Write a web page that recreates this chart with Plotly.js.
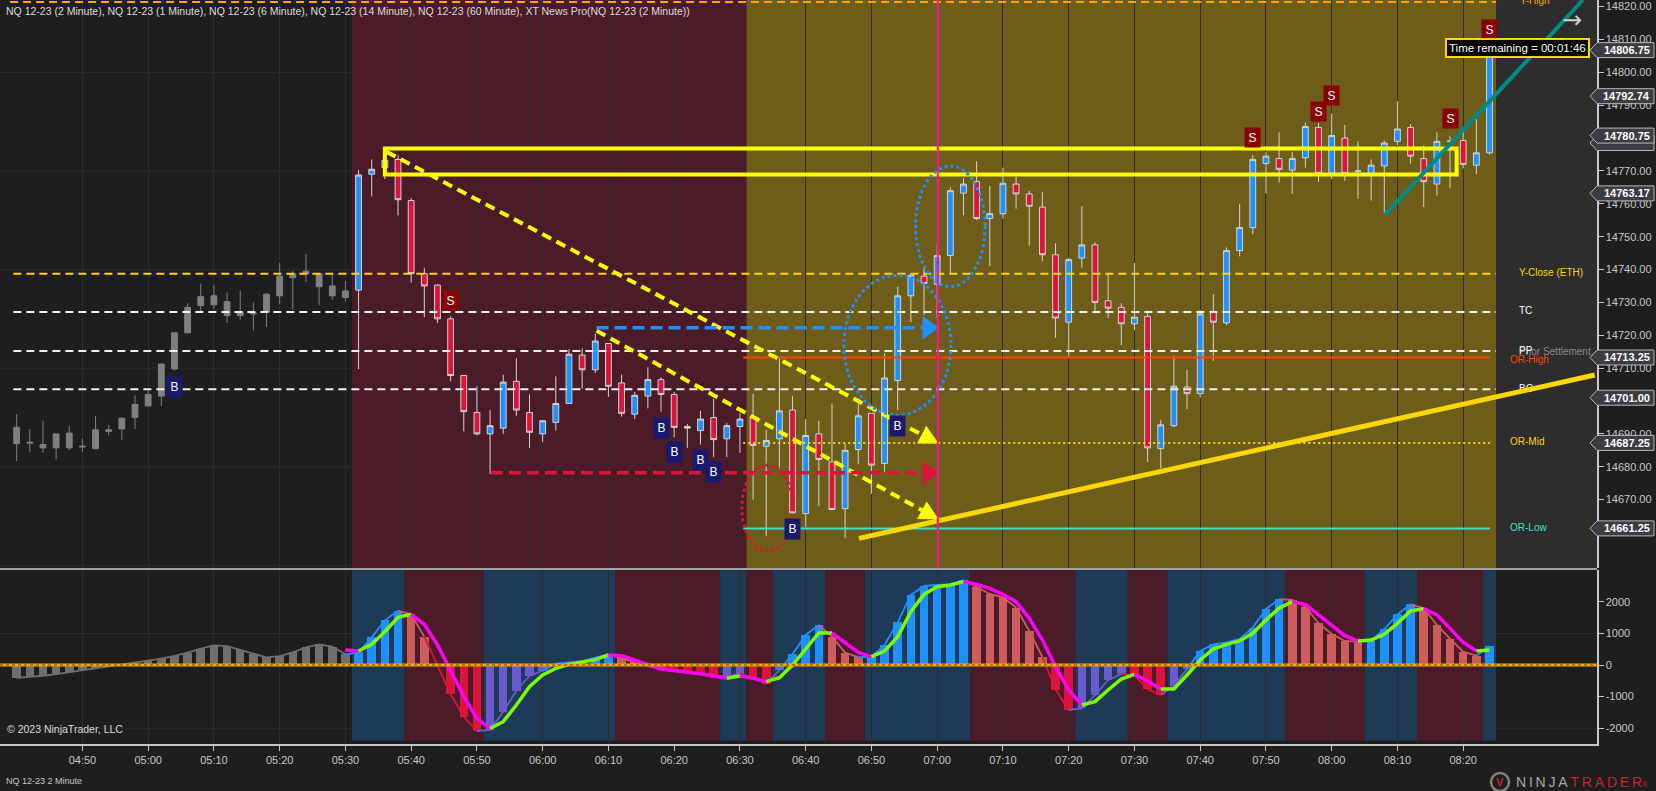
<!DOCTYPE html>
<html><head><meta charset="utf-8">
<script src="https://cdn.plot.ly/plotly-3.0.1.min.js"></script>
<style>html,body{margin:0;padding:0;background:#1e1e1e;}#chart{width:1656px;height:791px;}</style>
</head><body><div id="chart"></div>
<script>
// ---------------- DATA ----------------
const times = [
'04:40','04:42','04:44','04:46','04:48','04:50','04:52','04:54','04:56','04:58',
'05:00','05:02','05:04','05:06','05:08','05:10','05:12','05:14','05:16','05:18',
'05:20','05:22','05:24','05:26','05:28','05:30','05:32','05:34','05:36','05:38',
'05:40','05:42','05:44','05:46','05:48','05:50','05:52','05:54','05:56','05:58',
'06:00','06:02','06:04','06:06','06:08','06:10','06:12','06:14','06:16','06:18',
'06:20','06:22','06:24','06:26','06:28','06:30','06:32','06:34','06:36','06:38',
'06:40','06:42','06:44','06:46','06:48','06:50','06:52','06:54','06:56','06:58',
'07:00','07:02','07:04','07:06','07:08','07:10','07:12','07:14','07:16','07:18',
'07:20','07:22','07:24','07:26','07:28','07:30','07:32','07:34','07:36','07:38',
'07:40','07:42','07:44','07:46','07:48','07:50','07:52','07:54','07:56','07:58',
'08:00','08:02','08:04','08:06','08:08','08:10','08:12','08:14','08:16','08:18',
'08:20','08:22','08:24'];

const open = [
14692.0,14687.5,14686.75,14685.75,14690.25,14686.0,14685.5,14690.75,14691.5,14695.0,
14698.5,14701.5,14709.75,14720.75,14729.0,14732.0,14730.25,14727.25,14726.5,14727.0,
14732.0,14737.5,14738.75,14738.75,14735.0,14731.5,14733.75,14769.0,14771.0,14773.5,
14761.0,14738.75,14735.25,14725.0,14707.75,14696.5,14690.0,14691.75,14706.0,14696.5,
14690.0,14693.5,14699.25,14714.0,14709.5,14717.5,14705.5,14696.0,14701.5,14706.5,
14702.0,14692.25,14691.0,14695.0,14688.5,14692.25,14695.25,14686.25,14688.5,14697.25,
14665.75,14690.0,14681.5,14667.25,14685.25,14696.25,14681.0,14706.25,14732.0,14738.0,
14735.5,14744.25,14763.25,14766.75,14755.5,14757.0,14766.0,14763.0,14759.0,14744.5,
14724.0,14743.5,14747.5,14730.5,14728.5,14723.5,14725.75,14685.5,14692.5,14704.25,
14702.25,14727.25,14723.75,14745.75,14752.75,14772.25,14773.75,14770.25,14774.0,14783.25,
14769.25,14780.0,14770.0,14769.25,14771.5,14779.0,14783.25,14773.75,14766.0,14779.0,
14779.25,14771.75,14775.5];

const high = [
14696.0,14691.5,14694.0,14690.0,14692.5,14688.5,14695.5,14692.75,14695.0,14701.75,
14703.25,14711.25,14720.75,14729.75,14735.75,14735.25,14733.0,14733.75,14730.0,14732.75,
14742.0,14739.5,14744.75,14738.75,14738.5,14736.5,14770.25,14773.5,14774.25,14774.75,
14761.75,14740.5,14735.5,14725.75,14707.75,14704.5,14697.25,14708.0,14713.0,14702.0,
14694.0,14707.5,14715.75,14716.0,14720.5,14717.5,14708.0,14702.75,14710.25,14707.25,
14702.75,14693.0,14697.0,14700.75,14693.25,14696.25,14702.25,14691.25,14713.0,14701.5,
14694.5,14694.0,14699.25,14687.0,14700.75,14696.25,14714.5,14734.75,14738.75,14741.0,
14747.5,14765.0,14767.75,14773.0,14765.5,14771.0,14768.25,14764.0,14763.5,14748.0,
14743.5,14759.25,14748.25,14738.5,14729.75,14742.0,14727.5,14694.25,14713.75,14709.5,
14727.75,14732.5,14746.75,14760.0,14774.75,14775.75,14781.75,14775.75,14784.75,14784.5,
14787.5,14784.0,14779.0,14773.5,14779.25,14791.25,14784.25,14777.75,14781.75,14780.5,
14782.0,14785.75,14808.0];

const low = [
14681.75,14684.5,14684.25,14682.25,14685.0,14684.5,14685.25,14689.5,14688.25,14691.5,
14698.5,14698.5,14709.25,14720.75,14727.25,14728.0,14723.75,14724.75,14721.5,14722.5,
14729.5,14727.75,14736.25,14729.25,14730.75,14730.25,14709.75,14762.25,14767.5,14756.5,
14736.0,14725.5,14723.75,14706.0,14690.75,14689.5,14677.75,14690.0,14695.5,14685.75,
14687.5,14691.0,14699.25,14703.75,14708.5,14701.25,14695.25,14694.5,14697.75,14696.75,
14689.0,14685.75,14686.75,14683.0,14683.0,14684.25,14670.0,14659.0,14679.0,14665.75,
14661.75,14668.0,14667.0,14658.25,14680.75,14671.75,14678.5,14697.25,14724.0,14726.25,
14725.25,14738.75,14756.5,14755.0,14741.0,14755.5,14758.5,14747.25,14742.5,14719.25,
14713.5,14740.5,14727.25,14725.25,14717.0,14721.5,14681.5,14679.5,14692.0,14697.5,
14701.0,14712.25,14723.0,14744.0,14750.75,14763.25,14766.5,14763.0,14771.0,14766.75,
14767.5,14767.0,14761.5,14761.0,14757.0,14777.75,14772.25,14759.0,14762.5,14764.75,
14770.75,14769.0,14775.0];

const close = [
14687.0,14687.25,14685.75,14690.0,14685.75,14686.25,14691.25,14691.25,14694.75,14699.0,
14702.0,14711.25,14720.75,14728.5,14731.75,14729.25,14726.0,14726.0,14726.75,14732.5,
14738.0,14738.75,14739.5,14734.75,14732.0,14733.5,14768.75,14770.5,14773.25,14761.25,
14738.75,14735.0,14725.0,14707.75,14696.75,14690.0,14692.5,14705.75,14697.25,14690.5,
14694.0,14699.25,14714.25,14709.5,14718.25,14704.5,14696.25,14701.75,14706.5,14702.0,
14692.0,14691.75,14694.5,14688.25,14692.5,14694.5,14686.5,14688.0,14697.0,14666.0,
14689.5,14682.25,14667.0,14685.0,14695.5,14680.5,14707.0,14732.0,14738.25,14735.75,
14744.25,14764.0,14766.0,14755.5,14757.0,14766.25,14763.0,14759.25,14744.5,14725.25,
14743.0,14747.5,14730.0,14728.25,14723.5,14725.5,14685.75,14692.75,14704.5,14702.25,
14726.5,14724.0,14745.75,14752.75,14773.5,14774.5,14770.5,14773.75,14783.5,14769.25,
14780.75,14769.25,14770.0,14771.75,14778.5,14782.75,14774.5,14766.75,14779.0,14779.0,
14772.0,14775.5,14806.75];

const hist = [
-410,-380,-340,-290,-230,-170,-110,-50,10,60,
120,200,290,390,520,620,600,480,340,240,
280,400,560,650,580,338,400,876,1414,1720,
1604,897,-20,-928,-1635,-2089,-2057,-1477,-812,-338,
-180,40,80,120,232,338,211,80,10,-70,
-130,-200,-270,-380,-350,-270,-400,-600,-160,338,
950,1266,897,390,250,265,633,1350,2216,2500,
2532,2553,2690,2479,2247,2142,1815,1076,253,-781,
-1424,-1371,-950,-475,-280,-330,-760,-950,-654,-130,
443,654,717,823,1182,1772,2080,2060,1846,1319,
981,760,739,770,1139,1604,1920,1794,1266,823,
422,295,601];

const signal = [
null,null,null,null,null,null,null,null,null,null,
null,null,null,null,null,null,null,null,null,null,
null,null,null,null,null,475,443,654,1055,1509,
1604,1287,633,-190,-1002,-1688,-2005,-1794,-1266,-686,
-317,-106,21,84,169,317,295,158,0,-127,
-190,-232,-274,-359,-422,-348,-422,-528,-401,0,
528,1013,1013,717,400,264,443,897,1688,2237,
2479,2532,2638,2553,2427,2237,2005,1477,791,-53,
-791,-1266,-1160,-791,-443,-295,-506,-760,-760,-317,
158,506,654,760,1002,1424,1794,2005,1920,1583,
1266,928,760,791,970,1319,1709,1783,1583,1160,
717,443,475];

const buyTimes = ['05:04','06:18','06:20','06:24','06:26','06:38','06:54'];
const buyPrices = [14704.2,14691.7,14684.4,14682.0,14678.3,14661.1,14692.5];
const sellTimes = ['05:46','07:48','07:58','08:00','08:18','08:24'];
const sellPrices = [14730.7,14780.1,14788.2,14793.1,14786.1,14812.9];

const levelNames = ['Y-High','Y-Close (ETH)','TC','PP','BC','OR-High','OR-Mid','OR-Low'];
const levelPrices = [14821.4,14738.7,14727.1,14715.2,14703.6,14713.25,14687.25,14661.25];

const hiddenTagPrice = 14778.50;
const tagPrices = [14806.75,14792.74,14780.75,14763.17,14713.25,14701.00,14687.25,14661.25];

const xTickLabels = ['04:50','05:00','05:10','05:20','05:30','05:40','05:50','06:00','06:10','06:20','06:30',
  '06:40','06:50','07:00','07:10','07:20','07:30','07:40','07:50','08:00','08:10','08:20'];
const priceTicks = [14670,14680,14690,14700,14710,14720,14730,14740,14750,14760,14770,14780,14790,14800,14810,14820];
const oscTicks = [-2000,-1000,0,1000,2000];

// ---------------- HELPERS ----------------
const FONT = '"Liberation Sans Narrow","Arial Narrow","Liberation Sans",Arial,sans-serif';
const BASE = Date.UTC(2023, 9, 2);
function tms(s){const a=s.split(':').map(Number);return BASE+((a[0]*60+a[1])*60+(a[2]||0))*1000;}
function ds(ms){return new Date(ms).toISOString().slice(0,23).replace('T',' ');}
const X = times.map(t=>ds(tms(t)));
const nPre = 26;

const xMin = tms('04:37:28'), xMax = tms('08:40:21');
const yMin = 14649.2, yMax = 14822.0;
const oMin = -2500, oMax = 3022;
const PLOT_W = 1597, PLOT_H = 744, PRICE_H = 568;
const msPerPx = (xMax-xMin)/PLOT_W;
const ptsPerPx = (yMax-yMin)/PRICE_H;
function pxX(px){return ds(xMin+px*msPerPx);}

const C_BLUE='#1e90ff', C_SALMON='#cd5c5c', C_CRIMSON='#dc143c', C_PURPLE='#6a5acd', C_GRAY='#6f6f6f';
const histColor = hist.map((v,i)=>{
  if(i<nPre) return C_GRAY;
  const up = v>hist[i-1];
  if(v>=0) return up?C_BLUE:C_SALMON;
  return up?C_PURPLE:C_CRIMSON;
});

const traces = [];
function candle(a,b,incFill,decFill,lineC){
  return {type:'candlestick',x:X.slice(a,b),open:open.slice(a,b),high:high.slice(a,b),low:low.slice(a,b),close:close.slice(a,b),
    xaxis:'x',yaxis:'y',hoverinfo:'skip',showlegend:false,whiskerwidth:0,
    increasing:{line:{color:lineC,width:1},fillcolor:incFill},
    decreasing:{line:{color:lineC,width:1},fillcolor:decFill}};
}
traces.push(candle(0,nPre,'#808080','#808080','#808080'));
traces.push(candle(nPre,X.length,C_BLUE,C_CRIMSON,'#d4d4d4'));

const drawDashYellow1 = {t0:'05:36:16',p0:14775.8,t1:'07:00:12',p1:14687.1};
const drawDashYellow2 = {t0:'06:08:12',p0:14721.4,t1:'07:00:12',p1:14664.0};
const drawDashBlue = {t0:'06:08:12',p0:14722.3,t1:'07:00:12',p1:14722.3};
const drawDashRed = {t0:'05:52:08',p0:14678.2,t1:'07:00:12',p1:14678.2};

function arrowHead(d,len,half,color){
  const x0=tms(d.t0), x1=tms(d.t1);
  const dx=(x1-x0)/msPerPx, dy=-(d.p1-d.p0)/ptsPerPx;
  const L=Math.hypot(dx,dy), ux=dx/L, uy=dy/L, nx=-uy, ny=ux;
  const bx=-ux*len, by=-uy*len;
  const pts=[[0,0],[bx+nx*half,by+ny*half],[bx-nx*half,by-ny*half],[0,0]];
  return {type:'scatter',mode:'lines',xaxis:'x',yaxis:'y',fill:'toself',fillcolor:color,line:{width:0,color:color},hoverinfo:'skip',showlegend:false,
    x:pts.map(q=>ds(x1+q[0]*msPerPx)), y:pts.map(q=>d.p1-q[1]*ptsPerPx)};
}
traces.push(arrowHead(drawDashYellow1,19,10,'#ffff00'));
traces.push(arrowHead(drawDashYellow2,19,10,'#ffff00'));
traces.push(arrowHead(drawDashBlue,16,12,C_BLUE));
traces.push(arrowHead(drawDashRed,16,12,C_CRIMSON));

const LBL = 10;
const labelDefs = [
  ['Y-High',1520,levelPrices[0],'#ffa500'],
  ['Y-Close (ETH)',1519,levelPrices[1],'#ffd700'],
  ['TC',1519,levelPrices[2],'#ffffff'],
  ['Prior Settlement',1519,levelPrices[3]-0.4,'#8c8c8c'],
  ['PP',1519,levelPrices[3],'#ffffff'],
  ['OR-High',1510,levelPrices[5]-1.0,'#ff4500'],
  ['BC',1519,levelPrices[4],'#ffffff'],
  ['OR-Mid',1510,levelPrices[6],'#ffd700'],
  ['OR-Low',1510,levelPrices[7],'#40e0d0']];
labelDefs.forEach(l=>traces.push({type:'scatter',mode:'text',x:[pxX(l[1])],y:[l[2]],text:[l[0]],textposition:'middle right',
  textfont:{family:FONT,size:LBL,color:l[3]},cliponaxis:false,xaxis:'x',yaxis:'y',hoverinfo:'skip',showlegend:false}));

traces.push({type:'bar',x:X,y:hist,xaxis:'x2',yaxis:'y2',width:78000,marker:{color:histColor,line:{width:0}},hoverinfo:'skip',showlegend:false});
function segTraces(vals,colorOf,width,start){
  const out=[];let cur=null;
  for(let i=start+1;i<vals.length;i++){
    const c=colorOf(i);
    if(cur&&cur.c===c){cur.x.push(X[i]);cur.y.push(vals[i]);}
    else{cur={c,x:[X[i-1],X[i]],y:[vals[i-1],vals[i]]};out.push(cur);}
  }
  return out.map(s=>({type:'scatter',mode:'lines',x:s.x,y:s.y,xaxis:'x2',yaxis:'y2',line:{color:s.c,width:width},hoverinfo:'skip',showlegend:false}));
}
segTraces(hist,i=>histColor[i],1.8,0).forEach(t=>traces.push(t));
segTraces(signal,i=>signal[i]>=signal[i-1]?'#7cfc00':'#ff00ff',3.5,25).forEach(t=>traces.push(t));

// ---------------- SHAPES ----------------
const shapes = [];
const MAROON='#4b1c27', OLIVE='#6d5d18', BANDBLUE='#1f3a56';
shapes.push({type:'rect',layer:'below',xref:'x',yref:'y',x0:ds(tms('05:31')),x1:ds(tms('06:31')),y0:yMin,y1:yMax,fillcolor:MAROON,line:{width:0}});
shapes.push({type:'rect',layer:'below',xref:'x',yref:'y',x0:ds(tms('06:31')),x1:ds(tms('08:25')),y0:yMin,y1:yMax,fillcolor:OLIVE,line:{width:0}});
shapes.push({type:'rect',layer:'below',xref:'x',yref:'y',x0:ds(tms('08:25')),x1:ds(xMax),y0:yMin,y1:yMax,fillcolor:'#2d2d2d',line:{width:0}});
const bands=[];let band=null;
for(let i=nPre;i<hist.length;i++){
  const c=hist[i]>hist[i-1]?BANDBLUE:MAROON;
  const a=tms(times[i])-60000,b=tms(times[i])+60000;
  if(band&&band.c===c) band.b=b; else {band={c,a,b};bands.push(band);}
}
bands.forEach(s=>shapes.push({type:'rect',layer:'below',xref:'x2',yref:'y2',x0:ds(s.a),x1:ds(s.b),y0:-2400,y1:oMax,fillcolor:s.c,line:{width:0}}));
for(let p=14650;p<=14800;p+=30) shapes.push({type:'line',layer:'below',xref:'paper',yref:'y',x0:0,x1:1,y0:p,y1:p,line:{color:'#2c2c2c',width:1}});
[-2000,1000].forEach(v=>shapes.push({type:'line',layer:'below',xref:'paper',yref:'y2',x0:0,x1:1,y0:v,y1:v,line:{color:'#2c2c2c',width:1}}));

function hline(p,t0,t1,color,dash,w){shapes.push({type:'line',xref:'x',yref:'y',x0:ds(tms(t0)),x1:ds(tms(t1)),y0:p,y1:p,line:{color:color,width:w,dash:dash}});}
hline(levelPrices[0],'04:39:00','08:25:00','#ffa500','8px,5px',2);
hline(levelPrices[1],'04:39:30','08:25:00','#ffd700','8px,5px',2);
hline(levelPrices[2],'04:39:30','08:25:00','#f0f0f0','8px,5px',2);
hline(levelPrices[3],'04:39:30','08:25:00','#f0f0f0','8px,5px',2);
hline(levelPrices[4],'04:39:30','08:25:00','#f0f0f0','8px,5px',2);
hline(levelPrices[5],'06:30:30','08:24:04','#ff4500','solid',2);
hline(levelPrices[6],'06:30:30','08:24:04','#ffd700','2px,3px',2);
hline(levelPrices[7],'06:30:30','08:24:04','#40e0d0','solid',2);

function seg(d,color,dash,w){shapes.push({type:'line',xref:'x',yref:'y',x0:ds(tms(d.t0)),x1:ds(tms(d.t1)),y0:d.p0,y1:d.p1,line:{color:color,width:w,dash:dash}});}
shapes.push({type:'rect',xref:'x',yref:'y',x0:ds(tms('05:36:00')),x1:ds(tms('08:19:00')),y0:14768.9,y1:14776.8,line:{color:'#ffff00',width:4},fillcolor:'rgba(0,0,0,0)'});
seg(drawDashYellow1,'#ffff00','10px,6px',4);
seg(drawDashYellow2,'#ffff00','10px,6px',4);
seg(drawDashBlue,C_BLUE,'12px,6px',3.5);
seg(drawDashRed,C_CRIMSON,'12px,6px',3.5);
seg({t0:'06:48:06',p0:14658.2,t1:'08:40:00',p1:14707.9},'#ffd700','solid',5);
seg({t0:'08:08:06',p0:14756.6,t1:'08:38:12',p1:14822.0},'#008b8b','solid',4);
shapes.push({type:'circle',xref:'x',yref:'y',x0:ds(tms('06:45:48')),x1:ds(tms('07:02:06')),y0:14695.7,y1:14738.3,line:{color:C_BLUE,width:3,dash:'dot'}});
shapes.push({type:'circle',xref:'x',yref:'y',x0:ds(tms('06:56:42')),x1:ds(tms('07:07:18')),y0:14734.8,y1:14771.5,line:{color:C_BLUE,width:3,dash:'dot'}});
shapes.push({type:'circle',xref:'x',yref:'y',x0:ds(tms('06:30:18')),x1:ds(tms('06:38:06')),y0:14654.3,y1:14680.5,line:{color:C_CRIMSON,width:3,dash:'dot'}});
shapes.push({type:'line',xref:'x',yref:'y',x0:ds(tms('07:00:06')),x1:ds(tms('07:00:06')),y0:yMin,y1:yMax,line:{color:'#ff1493',width:2}});

shapes.push({type:'line',xref:'paper',yref:'y2',x0:0,x1:1,y0:0,y1:0,line:{color:'#ffa500',width:3}});
shapes.push({type:'line',xref:'paper',yref:'y2',x0:0,x1:1,y0:0,y1:0,line:{color:'#3f5a00',width:1,dash:'3px,3px'}});
shapes.push({type:'line',xref:'paper',yref:'paper',x0:0,x1:1,y0:(PLOT_H-569)/PLOT_H,y1:(PLOT_H-569)/PLOT_H,line:{color:'#cfcfcf',width:1.5}});

const annotations = [];
const tagH = 7.5*ptsPerPx;
const tx0 = 1590/PLOT_W, tx1 = 1, tx2 = 1654/PLOT_W;
function tagShape(p){
  shapes.push({type:'path',xref:'paper',yref:'y',path:`M ${tx0},${p} L ${tx1},${p+tagH} L ${tx2},${p+tagH} L ${tx2},${p-tagH} L ${tx1},${p-tagH} Z`,
    fillcolor:'#3c3c44',line:{color:'#b8b8b8',width:1}});
}
tagShape(hiddenTagPrice);
tagPrices.forEach(p=>{
  tagShape(p);
  annotations.push({xref:'paper',yref:'y',x:1627/PLOT_W,y:p,text:'<b>'+p.toFixed(2)+'</b>',showarrow:false,font:{family:FONT,size:11,color:'#ffffff'},xanchor:'center',yanchor:'middle'});
});
shapes.push({type:'circle',xref:'paper',yref:'paper',x0:1491/PLOT_W,x1:1509/PLOT_W,y0:(PLOT_H-791)/PLOT_H,y1:(PLOT_H-773)/PLOT_H,line:{color:'#8a7f7a',width:2.5}});

function pY(py){return (PLOT_H-py)/PLOT_H;}
annotations.push({xref:'paper',yref:'paper',x:4/PLOT_W,y:pY(10.6),xanchor:'left',yanchor:'middle',showarrow:false,
  text:'NQ 12-23 (2 Minute), NQ 12-23 (1 Minute), NQ 12-23 (6 Minute), NQ 12-23 (14 Minute), NQ 12-23 (60 Minute), XT News Pro(NQ 12-23 (2 Minute))',
  font:{family:FONT,size:10.5,color:'#dcdcdc'}});
buyTimes.forEach((t,i)=>annotations.push({xref:'x',yref:'y',x:ds(tms(t)),y:buyPrices[i],text:'B',showarrow:false,bgcolor:'#191970',
  xanchor:'center',yanchor:'middle',width:15,height:20,borderpad:0,font:{family:'"Liberation Sans",Arial,sans-serif',size:12,color:'#ffffff'}}));
sellTimes.forEach((t,i)=>annotations.push({xref:'x',yref:'y',x:ds(tms(t)),y:sellPrices[i],text:'S',showarrow:false,bgcolor:'#8b0000',
  xanchor:'center',yanchor:'middle',width:15,height:19,borderpad:0,font:{family:'"Liberation Sans",Arial,sans-serif',size:12,color:'#ffffff'}}));
annotations.push({xref:'paper',yref:'paper',x:1517.7/PLOT_W,y:pY(48.3),xanchor:'center',yanchor:'middle',text:'Time remaining = 00:01:46',showarrow:false,
  bgcolor:'#000000',bordercolor:'#ffd700',borderwidth:2,borderpad:2,font:{family:FONT,size:11.5,color:'#ffffff'}});
annotations.push({xref:'paper',yref:'paper',x:1572/PLOT_W,y:pY(20),xanchor:'center',yanchor:'middle',text:'→',showarrow:false,font:{family:'"DejaVu Sans",sans-serif',size:24,color:'#cfcfcf'}});
annotations.push({xref:'paper',yref:'paper',x:5/PLOT_W,y:pY(729),xanchor:'left',yanchor:'middle',text:'© 2023 NinjaTrader, LLC',showarrow:false,font:{family:FONT,size:10.5,color:'#dcdcdc'}});
annotations.push({xref:'paper',yref:'paper',x:4/PLOT_W,y:pY(781),xanchor:'left',yanchor:'middle',text:'NQ 12-23 2 Minute',showarrow:false,font:{family:FONT,size:9,color:'#c8c8c8'}});
const th='\u2009';
annotations.push({xref:'paper',yref:'paper',x:1500/PLOT_W,y:pY(782),xanchor:'center',yanchor:'middle',text:'<b>V</b>',showarrow:false,font:{family:'"Liberation Sans",Arial',size:11,color:'#c1272d'}});
annotations.push({xref:'paper',yref:'paper',x:1514/PLOT_W,y:pY(782),xanchor:'left',yanchor:'middle',showarrow:false,
  text:'<span style="color:#a9a9a9">'+'NINJA'.split('').join(th)+'</span>'+th+'<span style="color:#c1272d">'+'TRADER'.split('').join(th)+'</span><span style="font-size:8px;color:#c1272d">®</span>',
  font:{family:'"Liberation Sans",Arial,sans-serif',size:14,color:'#a9a9a9'}});

// ---------------- LAYOUT ----------------
const axisFont = {family:FONT,size:11,color:'#c8c8c8'};
const layout = {
  width:1656,height:791,margin:{l:0,r:59,t:0,b:47,pad:0},
  paper_bgcolor:'#1e1e1e',plot_bgcolor:'rgba(0,0,0,0)',showlegend:false,hovermode:false,
  boxgap:0.37,bargap:0,font:{family:FONT,size:12,color:'#c8c8c8'},
  xaxis:{type:'date',range:[ds(xMin),ds(xMax)],domain:[0,1],anchor:'y',rangeslider:{visible:false},
    tickvals:xTickLabels.map(t=>ds(tms(t))),showticklabels:false,showgrid:true,gridcolor:'#2c2c2c',gridwidth:1,ticks:'',zeroline:false,showline:false},
  xaxis2:{type:'date',matches:'x',anchor:'y2',domain:[0,1],tickvals:xTickLabels.map(t=>ds(tms(t))),ticktext:xTickLabels,
    showgrid:true,gridcolor:'#2c2c2c',gridwidth:1,ticks:'outside',ticklen:5,tickcolor:'#c8c8c8',showline:true,linecolor:'#c8c8c8',linewidth:1.5,
    tickfont:axisFont,zeroline:false},
  yaxis:{domain:[(PLOT_H-PRICE_H)/PLOT_H,1],anchor:'x',side:'right',range:[yMin,yMax],tickvals:priceTicks,ticktext:priceTicks.map(v=>v.toFixed(2)),
    showgrid:false,zeroline:false,ticks:'outside',ticklen:5,tickcolor:'#c8c8c8',showline:true,linecolor:'#c8c8c8',linewidth:1.5,tickfont:axisFont},
  yaxis2:{domain:[0,(PLOT_H-569.5)/PLOT_H],anchor:'x2',side:'right',range:[oMin,oMax],tickvals:oscTicks,ticktext:oscTicks.map(String),
    showgrid:false,zeroline:false,ticks:'outside',ticklen:5,tickcolor:'#c8c8c8',showline:true,linecolor:'#c8c8c8',linewidth:1.5,tickfont:axisFont},
  shapes:shapes,annotations:annotations
};
Plotly.newPlot('chart',traces,layout,{staticPlot:true,displayModeBar:false});
</script></body></html>
